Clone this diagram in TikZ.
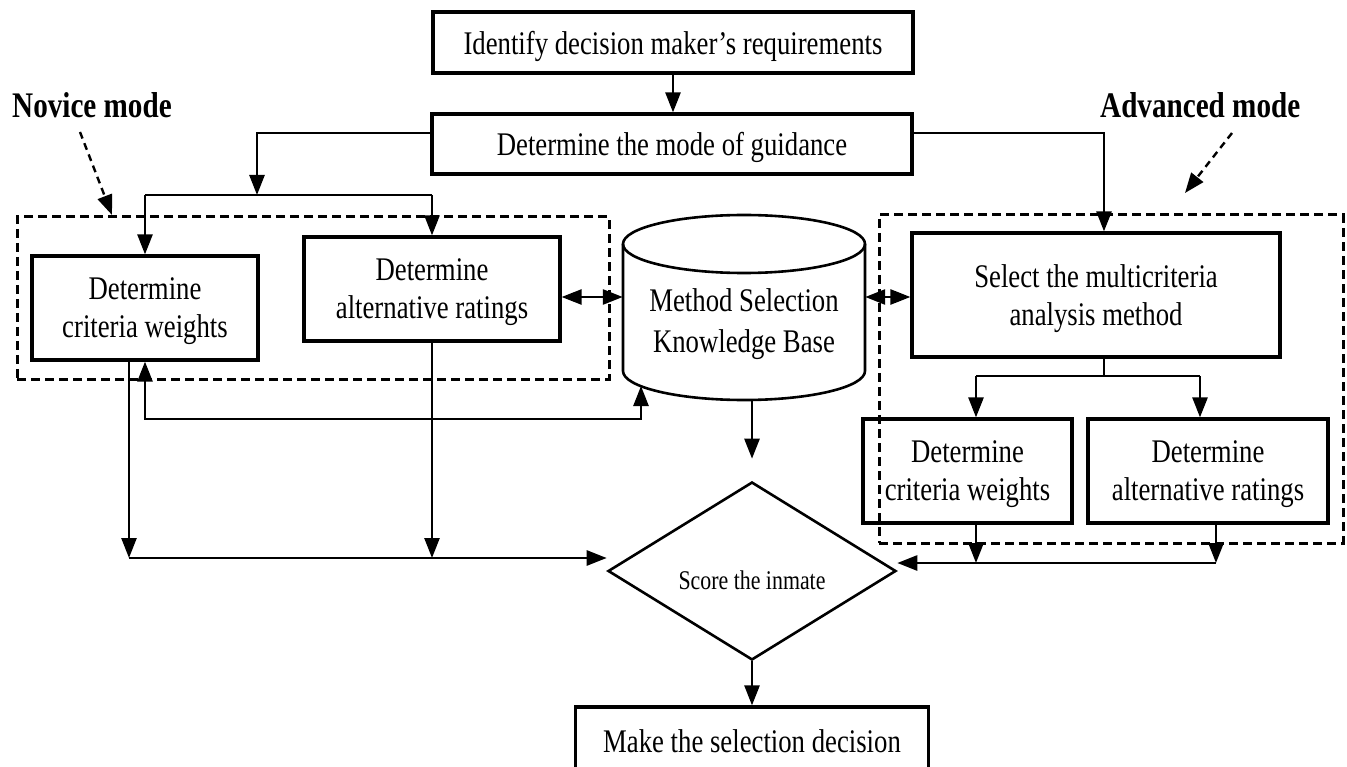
\documentclass[tikz,border=0pt]{standalone}
\usepackage{fontspec}
\setmainfont{Liberation Serif}[FakeStretch=0.81]
\usetikzlibrary{arrows.meta,shapes.geometric}
\tikzset{
  box/.style={draw, line width=3.2pt, inner sep=0pt, align=center, text depth=0pt,
              font=\fontsize{33}{38}\selectfont},
  txt/.style={inner sep=0pt, align=center, text depth=0pt, font=\fontsize{33}{41}\selectfont},
  grp/.style={draw, line width=3pt, dash pattern=on 9pt off 5pt, inner sep=0pt},
  con/.style={line width=2.6pt},
  arr/.style={con, -{Triangle[length=20pt,width=15pt]}},
  dbl/.style={con, {Triangle[length=20pt,width=15pt]}-{Triangle[length=20pt,width=15pt]}},
  darr/.style={line width=2.4pt, dash pattern=on 7pt off 5pt, -{Triangle[length=20pt,width=15pt]}},
  lbl/.style={inner sep=0pt, anchor=base west, font=\fontsize{36}{40}\selectfont\bfseries},
}
\begin{document}
\begin{tikzpicture}[x=1pt,y=-1pt]
\useasboundingbox (0,0) rectangle (1347,767);
\fill[white] (0,0) rectangle (1347,767);
\clip (0,0) rectangle (1347,767);

% boxes
\node[box, minimum width=480pt, minimum height=61pt] (top) at (673,42.5) {Identify decision maker’s requirements};
\node[box, minimum width=480pt, minimum height=60pt] (mode) at (672,144) {Determine the mode of guidance};
\node[box, minimum width=226pt, minimum height=104pt] (NL) at (145,308) {Determine\\criteria weights};
\node[box, minimum width=256pt, minimum height=104pt] (NR) at (432,289) {Determine\\alternative ratings};
\node[grp, minimum width=592pt, minimum height=162pt] (nov) at (313,298) {};
\node[box, minimum width=368pt, minimum height=124pt] (sel) at (1096,295) {Select the multicriteria\\analysis method};
\node[box, minimum width=209pt, minimum height=104pt] (AL) at (967.5,471) {Determine\\criteria weights};
\node[box, minimum width=240pt, minimum height=104pt] (AR) at (1208,471) {Determine\\alternative ratings};
\node[grp, minimum width=464pt, minimum height=328pt] (adv) at (1111,379) {};
\node[box, minimum width=353pt, minimum height=68pt] (bot) at (752,741) {Make the selection decision};

% knowledge base cylinder
\node[inner sep=0pt, minimum width=242pt, minimum height=185pt] (kb) at (744,307.5) {};
\draw[line width=2.6pt, fill=white] (623,244) -- (623,371)
  .. controls (623,387) and (677.2,400) .. (744,400)
  .. controls (810.8,400) and (865,387) .. (865,371) -- (865,244);
\draw[line width=2.6pt] (744,244) ellipse [x radius=121, y radius=29];
\node[txt] (kbt) at (744,321) {Method Selection\\Knowledge Base};

% decision diamond
\node[diamond, draw, line width=2.6pt, inner sep=0pt, minimum width=288pt, minimum height=178pt] (diam) at (752,571) {};
\node[inner sep=0pt, text depth=0pt, font=\fontsize{27}{30}\selectfont] (score) at (752,580) {Score the inmate};

% labels
\node[lbl] (novl) at (12,118) {Novice mode};
\node[lbl] (advl) at (1100,118) {Advanced mode};
\coordinate (n1) at (80,132);
\coordinate (n2) at (112,215);
\coordinate (a1) at (1232,133);
\coordinate (a2) at (1185,193);
\draw[darr] (n1) -- (n2);
\draw[darr] (a1) -- (a2);

% helper coordinates
\coordinate (bl) at (257,195);
\coordinate (mwl) at ([yshift=11pt]mode.west);
\coordinate (mwr) at ([yshift=11pt]mode.east);
\coordinate (seli) at ([xshift=8pt]sel.north);
\coordinate (selo) at ([xshift=8pt]sel.south);
\coordinate (sp) at (1104,376);
\coordinate (ali) at ([xshift=8.5pt]AL.north);
\coordinate (ari) at ([xshift=-8pt]AR.north);
\coordinate (alo) at ([xshift=8.5pt]AL.south);
\coordinate (aro) at ([xshift=8pt]AR.south);
\coordinate (rh) at (0,563);
\coordinate (lh) at (0,558);
\coordinate (nlo) at ([xshift=-16pt]NL.south);
\coordinate (fb) at (641,419);
\coordinate (kbb) at (641,386);
\coordinate (nre) at ([yshift=-8pt]NR.east);

% connectors
\draw[arr] (top.south) -- (top.south |- mode.north);
\draw[arr] (mwl) -| (bl);
\draw[con] (bl -| NL.north) -- (bl -| NR.north);
\draw[arr] (bl -| NL.north) -- (NL.north);
\draw[arr] (bl -| NR.north) -- (NR.north);
\draw[arr] (mwr) -| (seli);
\draw[con] (selo) -- (sp);
\draw[con] (sp -| ali) -- (sp -| ari);
\draw[arr] (sp -| ali) -- (ali);
\draw[arr] (sp -| ari) -- (ari);
\draw[arr] (alo) -- (alo |- rh);
\draw[arr] (aro) -- (aro |- rh);
\draw[arr] (aro |- rh) -- (diam.east |- rh);
\draw[arr] (nlo) -- (nlo |- lh);
\draw[arr] (NR.south) -- (NR.south |- lh);
\draw[arr] (nlo |- lh) -- (diam.west |- lh);
\draw[dbl] (NL.south) |- (fb) -- (kbb);
\draw[dbl] (nre) -- (nre -| kb.west);
\draw[dbl] (nre -| kb.east) -- (nre -| sel.west);
\draw[arr, shorten >=22pt] (diam.north |- kb.south) -- (diam.north);
\draw[arr] (diam.south) -- (bot.north);
\end{tikzpicture}
\end{document}
